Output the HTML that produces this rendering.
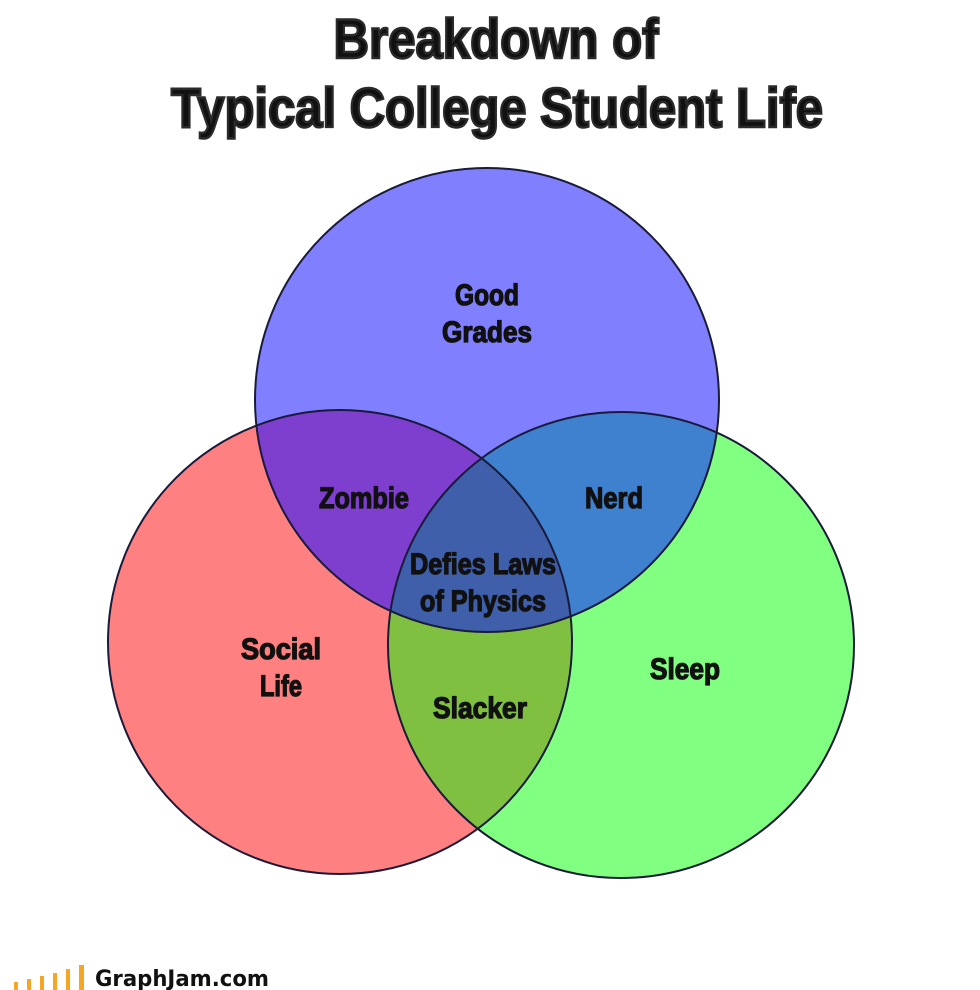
<!DOCTYPE html>
<html><head><meta charset="utf-8"><style>
html,body{margin:0;padding:0;background:#fff;width:980px;height:990px;overflow:hidden}
text{font-family:"Liberation Sans Narrow","Liberation Sans",sans-serif;font-weight:bold;fill:#111}
</style></head><body>
<svg width="980" height="990" viewBox="0 0 980 990" xmlns="http://www.w3.org/2000/svg">
<defs>
<clipPath id="cb"><circle cx="487" cy="400" r="232"/></clipPath>
<clipPath id="cr"><circle cx="340" cy="642" r="232"/></clipPath>
<clipPath id="cg"><circle cx="621" cy="645" r="233"/></clipPath>
</defs>
<g stroke="#2a2a2a" stroke-width="2.5">
<text x="496" y="58" font-size="56" text-anchor="middle" textLength="325" lengthAdjust="spacingAndGlyphs" fill="#2a2a2a">Breakdown of</text>
<text x="497" y="127" font-size="56" text-anchor="middle" textLength="652" lengthAdjust="spacingAndGlyphs" fill="#2a2a2a">Typical College Student Life</text>
</g>
<circle cx="487" cy="400" r="232" fill="#8080ff"/>
<circle cx="340" cy="642" r="232" fill="#ff8080"/>
<circle cx="621" cy="645" r="233" fill="#80ff80"/>
<g clip-path="url(#cb)"><circle cx="340" cy="642" r="232" fill="#7f3fce"/><circle cx="621" cy="645" r="233" fill="#3f80cf"/></g>
<g clip-path="url(#cr)"><circle cx="621" cy="645" r="233" fill="#80c040"/></g>
<g clip-path="url(#cr)"><g clip-path="url(#cb)"><circle cx="621" cy="645" r="233" fill="#3f5faa"/></g></g>
<g fill="none" stroke="#1a1a3a" stroke-width="2">
<circle cx="487" cy="400" r="232"/><circle cx="340" cy="642" r="232"/><circle cx="621" cy="645" r="233"/>
</g>
<g font-size="30" text-anchor="middle" stroke="#111" stroke-width="1.3">
<text x="487" y="305" textLength="64" lengthAdjust="spacingAndGlyphs">Good</text>
<text x="487" y="342" textLength="90" lengthAdjust="spacingAndGlyphs">Grades</text>
<text x="364" y="508" textLength="90" lengthAdjust="spacingAndGlyphs">Zombie</text>
<text x="614" y="508" textLength="58" lengthAdjust="spacingAndGlyphs">Nerd</text>
<text x="483" y="574" textLength="146" lengthAdjust="spacingAndGlyphs">Defies Laws</text>
<text x="483" y="611" textLength="126" lengthAdjust="spacingAndGlyphs">of Physics</text>
<text x="281" y="659" textLength="80" lengthAdjust="spacingAndGlyphs">Social</text>
<text x="281" y="696" textLength="42" lengthAdjust="spacingAndGlyphs">Life</text>
<text x="480" y="718" textLength="94" lengthAdjust="spacingAndGlyphs">Slacker</text>
<text x="685" y="679" textLength="70" lengthAdjust="spacingAndGlyphs">Sleep</text>
</g>
<g fill="#f5a623">
<rect x="14" y="982" width="4" height="8"/><rect x="27" y="979" width="4" height="11"/><rect x="40" y="976" width="4" height="14"/><rect x="53" y="973" width="4" height="17"/><rect x="66" y="969" width="4" height="21"/><rect x="79" y="965" width="5" height="25"/>
</g>
<text x="95" y="986" font-size="22" style="font-family:'DejaVu Sans',sans-serif" textLength="174" lengthAdjust="spacingAndGlyphs" fill="#222">GraphJam.com</text>
</svg>
</body></html>
